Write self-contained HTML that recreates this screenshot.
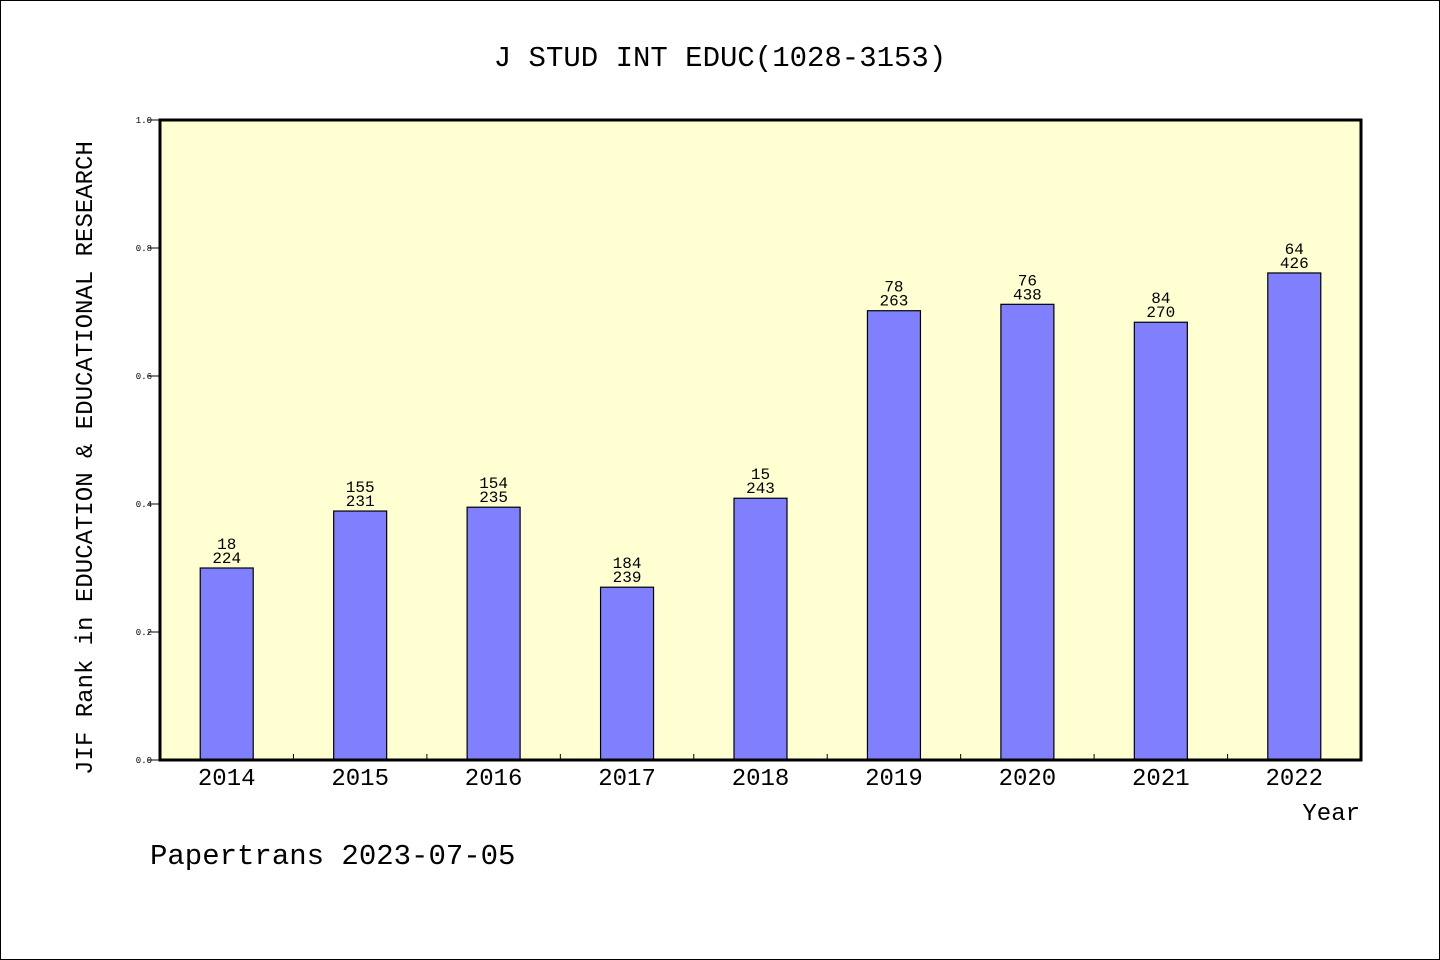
<!DOCTYPE html>
<html><head><meta charset="utf-8"><style>
body{margin:0;background:#fff}
svg{display:block}
text{font-family:"Liberation Mono","DejaVu Sans Mono",monospace;fill:#000}
</style></head><body>
<svg id="chart" width="1440" height="960">
<rect x="0.5" y="0.5" width="1439" height="959" fill="#fff" stroke="#000"/>
<text x="720" y="66" text-anchor="middle" font-size="29">J STUD INT EDUC(1028-3153)</text>
<rect x="160" y="120" width="1201" height="640" fill="#ffffd2"/>
<g id="bars"></g>
<g id="axes"></g>
<text transform="translate(92,458) rotate(-90)" text-anchor="middle" font-size="24">JIF Rank in EDUCATION &amp; EDUCATIONAL RESEARCH</text>
<text x="1360" y="820" text-anchor="end" font-size="24">Year</text>
<text x="150" y="864" font-size="29">Papertrans 2023-07-05</text>
</svg>
<script>
const years=["2014","2015","2016","2017","2018","2019","2020","2021","2022"];
const values=[0.300,0.389,0.395,0.270,0.409,0.702,0.712,0.684,0.761];
const ranks=["18","155","154","184","15","78","76","84","64"];
const totals=["224","231","235","239","243","263","438","270","426"];
const yTicks=[0,0.2,0.4,0.6,0.8,1.0];
const NS="http://www.w3.org/2000/svg";
const L=160,R=1361,T=120,B=760;
const band=(R-L)/years.length;
const xC=i=>L+band*(i+0.5);
const y=v=>B-(v)*(B-T);
function mk(tag,attrs,parent){const e=document.createElementNS(NS,tag);for(const k in attrs)e.setAttribute(k,attrs[k]);parent.appendChild(e);return e;}
const bars=document.getElementById('bars'),axes=document.getElementById('axes');
years.forEach((yr,i)=>{
 const bw=53;
 const r=mk('rect',{x:xC(i)-bw/2,y:y(values[i]),width:bw,height:B-y(values[i]),fill:'#8080ff',stroke:'#000','stroke-width':1.2},bars);
 
 
 const t1=mk('text',{x:xC(i),y:y(values[i])-19,'text-anchor':'middle','font-size':16},bars);
 t1.textContent=ranks[i];
 
 
 const t2=mk('text',{x:xC(i),y:y(values[i])-5,'text-anchor':'middle','font-size':16},bars);
 t2.textContent=totals[i];
 
 
 const xl=mk('text',{x:xC(i),y:785,'text-anchor':'middle','font-size':24},axes);
 xl.textContent=yr;
 
 
 if(i>0){const tk=mk('line',{x1:L+band*i,x2:L+band*i,y1:B,y2:B-6,stroke:'#000'},axes);
 
 }
});
yTicks.forEach(v=>{
 const tk=mk('line',{x1:L-12,x2:L,y1:y(v),y2:y(v),stroke:'#000'},axes);
 
 
 const tl=mk('text',{x:L-8,y:y(v)+3,'text-anchor':'end','font-size':9,'font-family':'Liberation Sans, sans-serif'},axes);
 tl.textContent=v.toFixed(1);
 
 
});
const fr=mk('rect',{x:L,y:T,width:R-L,height:B-T,fill:'none',stroke:'#000','stroke-width':3},axes);


</script>
</body></html>
